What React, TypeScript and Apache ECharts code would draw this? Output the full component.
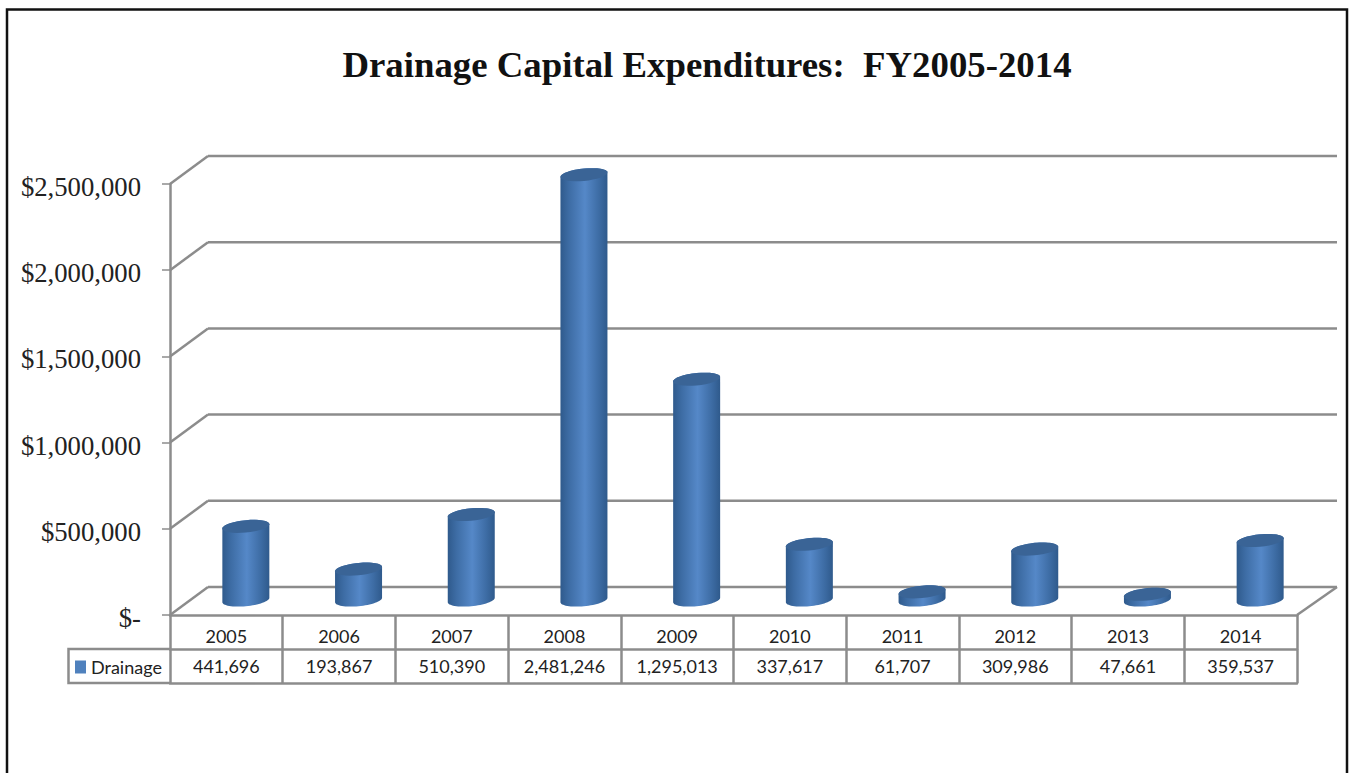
import React, { useEffect, useRef } from "react";
import * as echarts from "echarts";

const categories = ["2005", "2006", "2007", "2008", "2009", "2010", "2011", "2012", "2013", "2014"];
const drainage = [441696, 193867, 510390, 2481246, 1295013, 337617, 61707, 309986, 47661, 359537];
const yTicks = [0, 500000, 1000000, 1500000, 2000000, 2500000];
const titleText = "Drainage Capital Expenditures:  FY2005-2014";
const seriesName = "Drainage";

const GREY = "#8c8c8c";
const SERIF = "'Liberation Serif', serif";
const SANS = "Lato, 'Open Sans', sans-serif";

const fmtMoney = (v: number) => "{m|" + (v === 0 ? "$-" : "$" + v.toLocaleString("en-US")) + "}";
const fmtNum = (v: number) => v.toLocaleString("en-US");

export default function App() {
  const ref = useRef<HTMLDivElement>(null);
  useEffect(() => {
    const chart = echarts.init(ref.current!, undefined, { renderer: "svg" });
    const DX = 38;
    const DY = -28;
    const bodyGrad = new echarts.graphic.LinearGradient(0, 0, 1, 0, [
      { offset: 0, color: "#2f5a8c" },
      { offset: 0.18, color: "#3d6ca4" },
      { offset: 0.52, color: "#5588c8" },
      { offset: 0.82, color: "#3d6ca4" },
      { offset: 1, color: "#2f5a8c" },
    ]);
    const xAxisBase = {
      type: "category" as const,
      position: "bottom" as const,
      boundaryGap: true,
      axisLine: { show: true, lineStyle: { color: GREY, width: 2.5 } },
      axisTick: { show: true, inside: false, length: 34, lineStyle: { color: GREY, width: 2.5 } },
      axisLabel: { color: "#222", fontFamily: SANS, fontSize: 18, margin: 12 },
      splitLine: { show: false },
    };
    chart.setOption({
      animation: false,
      backgroundColor: "#fff",
      title: {
        text: titleText,
        left: 702,
        top: 41,
        textAlign: "center",
        textStyle: { color: "#111", fontFamily: SERIF, fontWeight: "bold", fontSize: 36.8 },
      },
      legend: {
        show: true,
        left: 75,
        top: 658,
        padding: 0,
        itemWidth: 11,
        itemHeight: 13,
        itemGap: 4,
        icon: "rect",
        data: [seriesName],
        textStyle: { color: "#222", fontFamily: SANS, fontSize: 18, padding: [0, 0, 0, 0] },
      },
      grid: { left: 170, top: 184, width: 1127, height: 431 },
      xAxis: [
        { ...xAxisBase, data: categories },
        {
          ...xAxisBase,
          offset: 34,
          data: drainage.map(fmtNum),
          axisLabel: { ...xAxisBase.axisLabel, margin: 8 },
        },
        { ...xAxisBase, offset: 68, data: categories, axisTick: { show: false }, axisLabel: { show: false } },
      ],
      yAxis: {
        type: "value",
        min: 0,
        max: 2500000,
        interval: 500000,
        axisLine: { show: true, lineStyle: { color: GREY, width: 2.5 } },
        axisTick: { show: true, length: 8, lineStyle: { color: GREY, width: 1.5 } },
        axisLabel: {
          margin: 29,
          formatter: fmtMoney,
          rich: {
            m: { color: "#222", fontFamily: SERIF, fontSize: 26.7, padding: [6, 0, 0, 0] },
          },
        },
        splitLine: { show: false },
      },
      graphic: [
        {
          type: "rect",
          shape: { x: 7, y: 9.5, width: 1340, height: 800 },
          style: { fill: "none", stroke: "#111", lineWidth: 2.5 },
          silent: true,
          z: 100,
        },
        {
          type: "polyline",
          shape: { points: [[170, 649], [68.5, 649], [68.5, 683], [170, 683]] },
          style: { fill: "none", stroke: GREY, lineWidth: 2.5 },
          silent: true,
        },
      ],
      series: [
        {
          type: "custom",
          name: "wall",
          silent: true,
          z: 1,
          clip: false,
          legendHoverLink: false,
          data: yTicks.map((t) => [0, t]),
          encode: { x: 0, y: 1 },
          renderItem: (_p: any, api: any) => {
            const y = api.coord([0, api.value(1)])[1];
            const left = 170;
            const right = 1297;
            const style = { stroke: GREY, lineWidth: 2.5, fill: "none" };
            const children: any[] = [
              { type: "line", shape: { x1: left, y1: y, x2: left + DX, y2: y + DY }, style },
              { type: "line", shape: { x1: left + DX, y1: y + DY, x2: right + DX + 2, y2: y + DY }, style },
            ];
            if (api.value(1) === 0) {
              children.push({ type: "line", shape: { x1: right, y1: y, x2: right + DX + 2, y2: y + DY }, style });
            }
            return { type: "group", children };
          },
        },
        {
          type: "custom",
          name: seriesName,
          z: 3,
          clip: false,
          itemStyle: { color: "#4f81bd" },
          data: drainage.map((v, i) => [i, v]),
          encode: { x: 0, y: 1 },
          renderItem: (_p: any, api: any) => {
            const top = api.coord([api.value(0), api.value(1)]);
            const base = api.coord([api.value(0), 0]);
            const cx = top[0] + 19.5;
            const rx = 23.5;
            const ry = 6.2;
            const tilt = 2.2;
            const by = base[1] - 15;
            const ty = top[1] - 12.5;
            const arc = (yc: number, from: number, to: number) => {
              const pts: number[][] = [];
              for (let k = 0; k <= 32; k++) {
                const a = from + ((to - from) * k) / 32;
                const px = Math.cos(a) * rx;
                pts.push([cx + px, yc + Math.sin(a) * ry - (px / rx) * tilt]);
              }
              return pts;
            };
            const bodyPts = [...arc(by, 0, Math.PI), ...arc(ty, Math.PI, 2 * Math.PI)];
            const topPts = arc(ty, 0, 2 * Math.PI);
            return {
              type: "group",
              children: [
                { type: "polygon", shape: { points: bodyPts }, style: { fill: bodyGrad, stroke: "none" } },
                { type: "polygon", shape: { points: topPts }, style: { fill: "#3a6496", stroke: "none" } },
              ],
            };
          },
        },
      ],
    });
    return () => chart.dispose();
  }, []);
  return <div ref={ref} style={{ width: 1349, height: 773, position: "absolute", left: 0, top: 0 }} />;
}
